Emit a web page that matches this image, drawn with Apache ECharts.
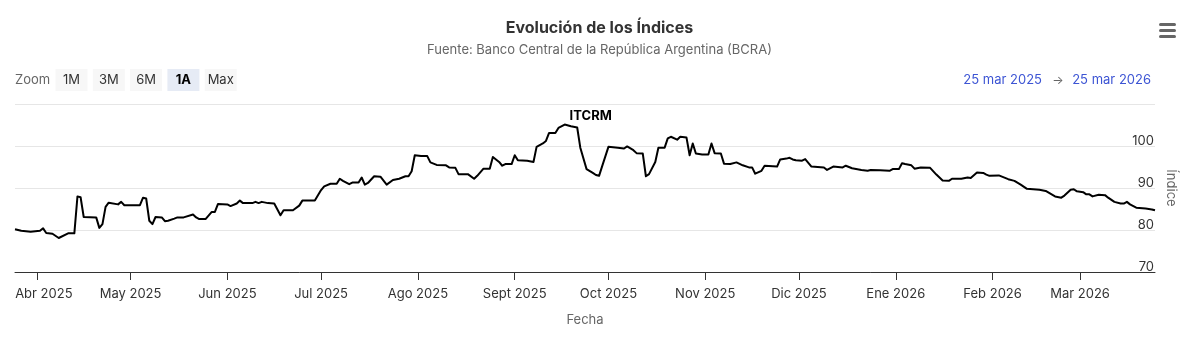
<!DOCTYPE html>
<html>
<head>
<meta charset="utf-8">
<script src="https://cdn.jsdelivr.net/npm/echarts@6/dist/echarts.min.js"></script>
<style>
  html, body { margin: 0; padding: 0; background: #fff; }
  #chart { width: 1199px; height: 343px; }
</style>
</head>
<body>
<div id="chart"></div>
<script>
// ---- Data ----
const dates = [
  '2025-03-25','2025-03-27','2025-03-30','2025-04-02','2025-04-03','2025-04-04','2025-04-06','2025-04-08',
  '2025-04-11','2025-04-13','2025-04-14','2025-04-15','2025-04-16','2025-04-20','2025-04-21','2025-04-22',
  '2025-04-23','2025-04-24','2025-04-27','2025-04-28','2025-04-29','2025-05-04','2025-05-05','2025-05-06',
  '2025-05-07','2025-05-08','2025-05-09','2025-05-11','2025-05-12','2025-05-13','2025-05-15','2025-05-16',
  '2025-05-18','2025-05-21','2025-05-22','2025-05-23','2025-05-25','2025-05-27','2025-05-28','2025-05-29',
  '2025-06-01','2025-06-02','2025-06-04','2025-06-05','2025-06-06','2025-06-09','2025-06-10','2025-06-11',
  '2025-06-12','2025-06-14','2025-06-16','2025-06-18','2025-06-19','2025-06-22','2025-06-24','2025-06-25',
  '2025-06-29','2025-07-01','2025-07-02','2025-07-04','2025-07-06','2025-07-07','2025-07-08','2025-07-10',
  '2025-07-11','2025-07-13','2025-07-14','2025-07-15','2025-07-16','2025-07-18','2025-07-20','2025-07-22',
  '2025-07-24','2025-07-26','2025-07-28','2025-07-29','2025-07-30','2025-07-31','2025-08-02','2025-08-04',
  '2025-08-05','2025-08-07','2025-08-10','2025-08-11','2025-08-13','2025-08-14','2025-08-17','2025-08-19',
  '2025-08-20','2025-08-22','2025-08-24','2025-08-25','2025-08-27','2025-08-28','2025-08-29','2025-08-31',
  '2025-09-01','2025-09-02','2025-09-05','2025-09-07','2025-09-08','2025-09-10','2025-09-11','2025-09-12',
  '2025-09-14','2025-09-15','2025-09-17','2025-09-19','2025-09-21','2025-09-22','2025-09-24','2025-09-26',
  '2025-09-27','2025-09-28','2025-09-29','2025-10-01','2025-10-04','2025-10-06','2025-10-07','2025-10-09',
  '2025-10-10','2025-10-12','2025-10-13','2025-10-14','2025-10-16','2025-10-17','2025-10-19','2025-10-20',
  '2025-10-21','2025-10-23','2025-10-24','2025-10-26','2025-10-27','2025-10-28','2025-10-29','2025-10-31',
  '2025-11-02','2025-11-03','2025-11-04','2025-11-06','2025-11-07','2025-11-09','2025-11-11','2025-11-13',
  '2025-11-15','2025-11-16','2025-11-17','2025-11-19','2025-11-20','2025-11-24','2025-11-25','2025-11-27',
  '2025-11-28','2025-11-29','2025-11-30','2025-12-02','2025-12-03','2025-12-05','2025-12-09','2025-12-10',
  '2025-12-12','2025-12-15','2025-12-16','2025-12-18','2025-12-21','2025-12-23','2025-12-24','2025-12-27',
  '2025-12-30','2025-12-31','2026-01-02','2026-01-03','2026-01-04','2026-01-06','2026-01-07','2026-01-09',
  '2026-01-12','2026-01-14','2026-01-16','2026-01-18','2026-01-19','2026-01-22','2026-01-24','2026-01-25',
  '2026-01-27','2026-01-29','2026-01-30','2026-01-31','2026-02-03','2026-02-06','2026-02-08','2026-02-10',
  '2026-02-12','2026-02-16','2026-02-18','2026-02-21','2026-02-23','2026-02-24','2026-02-26','2026-02-27',
  '2026-02-28','2026-03-02','2026-03-03','2026-03-04','2026-03-05','2026-03-07','2026-03-09','2026-03-10',
  '2026-03-12','2026-03-14','2026-03-15','2026-03-16','2026-03-17','2026-03-19','2026-03-22','2026-03-24',
  '2026-03-25'
];
const itcrm = [
  80.2,79.8,79.6,79.8,80.4,79.3,79.1,78.1,
  79.2,79.2,88.0,87.8,83.1,83.0,80.5,81.4,
  85.5,86.5,86.1,86.7,85.9,85.9,87.7,87.5,
  82.2,81.4,83.1,83.0,82.1,82.2,82.7,83.0,
  83.0,83.7,83.0,82.6,82.6,84.3,84.3,86.2,
  86.1,85.7,86.3,87.0,86.4,86.4,86.7,86.4,
  86.7,86.4,86.3,83.5,84.7,84.7,85.8,87.0,
  87.0,89.5,90.4,91.0,91.0,92.2,91.7,90.9,
  91.3,91.3,92.5,90.8,91.2,92.8,92.7,90.8,
  91.9,92.2,92.8,92.8,94.0,97.8,97.6,97.6,
  96.1,95.5,95.4,94.9,94.8,93.3,93.3,92.2,
  92.9,94.6,94.6,97.4,96.2,95.3,95.7,95.7,
  97.8,96.6,96.5,96.2,99.8,100.6,101.2,103.1,
  103.1,104.3,105.1,104.7,104.4,99.6,94.5,93.6,
  93.1,92.9,95.2,99.8,99.6,99.4,99.9,99.0,
  98.3,98.2,92.8,93.3,96.2,99.6,99.6,101.8,
  102.2,101.5,102.2,102.0,97.8,100.6,98.2,98.0,
  98.0,100.6,98.3,98.2,95.8,95.7,96.1,95.4,
  94.9,94.9,93.4,94.1,95.3,95.1,96.8,97.0,
  97.2,96.8,96.6,96.5,96.9,95.1,94.9,94.3,
  95.1,94.9,95.3,94.7,94.3,94.1,94.3,94.2,
  94.1,94.5,94.5,95.9,95.7,95.4,94.6,94.9,
  94.8,93.2,91.8,91.7,92.2,92.2,92.5,92.4,
  93.7,93.6,93.2,92.9,93.0,92.1,91.7,90.8,
  89.8,89.6,89.3,88.0,87.7,88.2,89.6,89.7,
  89.2,89.0,88.5,88.5,88.0,88.4,88.3,87.7,
  86.7,86.3,86.3,86.7,86.1,85.3,85.1,84.9,
  84.7
];
const tickDates = ['2025-04-01','2025-05-01','2025-06-01','2025-07-01','2025-08-01','2025-09-01',
  '2025-10-01','2025-11-01','2025-12-01','2026-01-01','2026-02-01','2026-03-01'];
const tickLabels = ['Abr 2025','May 2025','Jun 2025','Jul 2025','Ago 2025','Sept 2025',
  'Oct 2025','Nov 2025','Dic 2025','Ene 2026','Feb 2026','Mar 2026'];
const yTicks = [70, 80, 90, 100, 110];
const rangeStart = '2025-03-25';
const rangeEnd = '2026-03-25';
const seriesName = 'ITCRM';

// ---- Chart ----
const toTs = d => Date.UTC(+d.slice(0, 4), +d.slice(5, 7) - 1, +d.slice(8, 10));
const tickTs = tickDates.map(toTs);
const FONT = 'Inter, "Noto Sans", sans-serif';

const chart = echarts.init(document.getElementById('chart'), null, { renderer: 'canvas' });

const buttons = ['1M', '3M', '6M', '1A', 'Max'];
const graphic = [
  { type: 'text', x: 15, y: 80, style: { text: 'Zoom', font: '13px ' + FONT, fill: '#666666',
    textVerticalAlign: 'middle' } }
];
buttons.forEach((b, i) => {
  const x = 55.5 + i * 37.3;
  const sel = b === '1A';
  graphic.push({ type: 'rect', shape: { x: x, y: 69, width: 32, height: 22 },
    style: { fill: sel ? '#e6ebf5' : '#f7f7f7' } });
  graphic.push({ type: 'text', x: x + 16, y: 80,
    style: { text: b, font: (sel ? 'bold ' : '') + '13px ' + FONT, fill: sel ? '#000000' : '#333333',
      textAlign: 'center', textVerticalAlign: 'middle' } });
});
const fmtRange = d => {
  const [y, m, dd] = d.split('-');
  const mn = ['ene','feb','mar','abr','may','jun','jul','ago','sept','oct','nov','dic'][+m - 1];
  return (+dd) + ' ' + mn + ' ' + y;
};
graphic.push({ type: 'text', x: 1042, y: 80, style: { text: fmtRange(rangeStart), font: '13px ' + FONT,
  fill: '#3d55d4', textAlign: 'right', textVerticalAlign: 'middle' } });
graphic.push({ type: 'text', x: 1058, y: 80, style: { text: '→', font: '12px ' + FONT,
  fill: '#666666', textAlign: 'center', textVerticalAlign: 'middle' } });
graphic.push({ type: 'text', x: 1151, y: 80, style: { text: fmtRange(rangeEnd), font: '13px ' + FONT,
  fill: '#3d55d4', textAlign: 'right', textVerticalAlign: 'middle' } });
[23, 29, 35].forEach(y => {
  graphic.push({ type: 'rect', shape: { x: 1159, y: y, width: 17, height: 3, r: 1.5 }, style: { fill: '#666666' } });
});

chart.setOption({
  animation: false,
  title: {
    text: 'Evolución de los Índices',
    subtext: 'Fuente: Banco Central de la República Argentina (BCRA)',
    left: 'center',
    top: 15,
    itemGap: 8,
    textStyle: { fontFamily: FONT, fontSize: 16, fontWeight: 'bold', color: '#333333' },
    subtextStyle: { fontFamily: FONT, fontSize: 13, color: '#666666' }
  },
  graphic: graphic,
  grid: { left: 15, right: 44, top: 104, bottom: 71, containLabel: false },
  xAxis: {
    type: 'value',
    min: toTs(rangeStart),
    max: toTs(rangeEnd),
    name: 'Fecha',
    nameLocation: 'middle',
    nameGap: 42,
    nameTextStyle: { fontFamily: FONT, fontSize: 13, color: '#666666' },
    axisLine: { show: true, lineStyle: { color: '#333333', width: 1 } },
    axisTick: { show: true, length: 8, customValues: tickTs, lineStyle: { color: '#333333' } },
    axisLabel: {
      customValues: tickTs,
      margin: 16,
      fontFamily: FONT, fontSize: 13, color: '#333333',
      formatter: function (v) {
        const i = tickTs.indexOf(v);
        const t = i >= 0 ? tickLabels[i] : '';
        return i === 0 ? '{first|' + t + '}' : t;
      },
      rich: { first: { fontFamily: FONT, fontSize: 13, color: '#333333', padding: [0, 0, 0, 14] } }
    },
    splitLine: { show: false }
  },
  yAxis: {
    type: 'value',
    position: 'right',
    min: yTicks[0],
    max: yTicks[yTicks.length - 1],
    interval: 10,
    name: 'Índice',
    nameLocation: 'middle',
    nameGap: 9,
    nameRotate: -90,
    nameTextStyle: { fontFamily: FONT, fontSize: 13, color: '#666666' },
    axisLine: { show: false },
    axisTick: { show: false },
    axisLabel: {
      inside: true, margin: 1, fontFamily: FONT, fontSize: 13, color: '#333333',
      verticalAlign: 'bottom', lineHeight: 10,
      formatter: v => (v === 110 ? '' : String(v))
    },
    splitLine: { show: true, lineStyle: { color: '#e6e6e6', width: 1 } }
  },
  series: [{
    name: seriesName,
    type: 'line',
    data: dates.map((d, i) => [toTs(d), itcrm[i]]),
    showSymbol: false,
    silent: true,
    lineStyle: { color: '#000000', width: 2, join: 'round' },
    itemStyle: { color: '#000000' },
    markPoint: {
      symbol: 'circle',
      symbolSize: 0,
      silent: true,
      data: [{ type: 'max' }],
      label: { show: true, formatter: seriesName, offset: [26, -8], fontFamily: FONT,
        fontSize: 13, fontWeight: 'bold', color: '#000000' }
    }
  }]
});
</script>
</body>
</html>
